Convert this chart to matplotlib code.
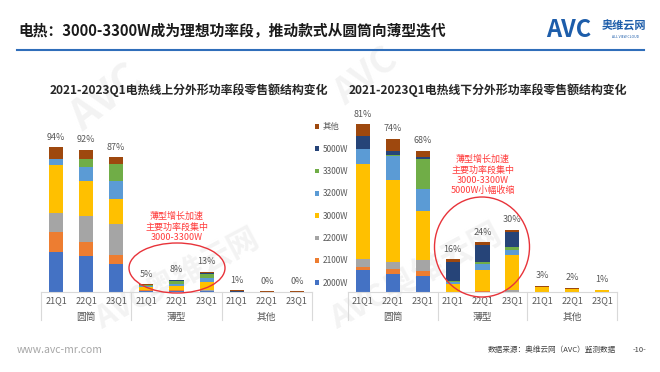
import matplotlib
matplotlib.use('Agg')
from matplotlib import pyplot as plt
from matplotlib.patches import Ellipse
from matplotlib.lines import Line2D
import numpy as np

plt.rcParams['font.family'] = ['Noto Sans CJK SC', 'DejaVu Sans']

W, H = 660, 372

quarters = ['21Q1', '22Q1', '23Q1']
groups = ['圆筒', '薄型', '其他']
bands = ['2000W', '2100W', '2200W', '3000W', '3200W', '3300W', '5000W', '其他']
colors = ['#4472C4', '#ED7D31', '#A5A5A5', '#FFC000', '#5B9BD5', '#70AD47', '#264478', '#9E480E']

# 线上 (圆筒 21Q1..23Q1, 薄型 21Q1..23Q1, 其他 21Q1..23Q1), 单位 %
on_2000 = [26.1, 23.1, 17.9, 0.5, 0.6, 0.4, 0.1, 0.1, 0.1]
on_2100 = [13.0, 9.3, 6.0, 0.6, 0.4, 0.3, 0.0, 0.0, 0.0]
on_2200 = [12.3, 16.8, 20.1, 0.4, 0.6, 0.4, 0.1, 0.0, 0.0]
on_3000 = [31.3, 22.7, 16.2, 1.5, 2.0, 5.5, 0.1, 0.1, 0.1]
on_3200 = [3.9, 9.1, 12.1, 0.7, 1.3, 2.8, 0.0, 0.0, 0.0]
on_3300 = [0.0, 5.6, 11.0, 0.9, 2.4, 2.6, 0.0, 0.0, 0.0]
on_5000 = [0.0, 0.0, 0.0, 0.2, 0.2, 0.3, 0.6, 0.1, 0.0]
on_other = [7.3, 5.6, 4.1, 0.2, 0.5, 0.7, 0.1, 0.1, 0.2]

# 线下
off_2000 = [10.5, 8.5, 7.6, 0.0, 0.0, 0.0, 0.0, 0.0, 0.0]
off_2100 = [1.6, 2.4, 2.6, 0.0, 0.4, 0.0, 0.0, 0.0, 0.0]
off_2200 = [4.0, 3.5, 5.2, 0.0, 0.0, 1.1, 0.0, 0.0, 0.0]
off_3000 = [45.9, 39.8, 23.6, 4.0, 10.3, 16.6, 2.4, 1.5, 0.8]
off_3200 = [7.2, 11.4, 10.8, 0.8, 2.9, 2.7, 0.0, 0.0, 0.0]
off_3300 = [0.0, 0.6, 14.5, 0.6, 0.8, 1.3, 0.0, 0.0, 0.0]
off_5000 = [6.0, 2.1, 1.1, 9.2, 8.1, 7.2, 0.0, 0.0, 0.0]
off_other = [5.8, 5.6, 2.9, 1.3, 1.6, 1.1, 0.6, 0.5, 0.4]

online = [on_2000, on_2100, on_2200, on_3000, on_3200, on_3300, on_5000, on_other]
offline = [off_2000, off_2100, off_2200, off_3000, off_3200, off_3300, off_5000, off_other]


def fx(px):
    return px / W


def fy(py):
    return 1 - py / H


def draw_chart(ax, series, ymax, h_px):
    x = np.arange(9)
    bottom = np.zeros(9)
    for vals, c, lab in zip(series, colors, bands):
        ax.bar(x, vals, 0.47, bottom=bottom, color=c, label=lab, zorder=2)
        bottom += np.asarray(vals)
    for xi, tot in zip(x, bottom):
        ax.annotate(f'{tot:.0f}%', (xi, tot), xytext=(0, 4), textcoords='offset points',
                    ha='center', va='bottom', fontsize=6.5, color='#595959')
    ax.set_xlim(-0.5, 8.5)
    ax.set_ylim(0, ymax)
    ax.set_facecolor('none')
    for s in ax.spines.values():
        s.set_visible(False)
    ax.set_yticks([])
    ax.set_xticks(x)
    ax.set_xticklabels(quarters * 3, fontsize=6.5, color='#595959')
    ax.tick_params(axis='x', length=0, pad=3)
    ax.plot([-0.5, 8.5], [0, 0], color='#D9D9D9', lw=0.8, zorder=3, clip_on=False)
    trans = ax.get_xaxis_transform()
    for sep in [-0.5, 2.5, 5.5, 8.5]:
        ax.plot([sep, sep], [0, -28 / h_px], color='#D9D9D9', lw=0.8, transform=trans, clip_on=False)
    for i, g in enumerate(groups):
        ax.annotate(g, (3 * i + 1, 0), xycoords=trans, xytext=(0, -18), textcoords='offset points',
                    ha='center', va='center', fontsize=7, color='#595959')


fig = plt.figure(figsize=(6.6, 3.72), dpi=100)

# 水印
wm = '#F3F3F3'
fig.text(fx(88), fy(140), 'AVC', rotation=38, rotation_mode='anchor', fontsize=30,
         weight='bold', color=wm, ha='left', va='bottom', zorder=-1)
fig.text(fx(350), fy(112), 'AVC', rotation=38, rotation_mode='anchor', fontsize=26,
         weight='bold', color=wm, ha='left', va='bottom', zorder=-1)
fig.text(fx(105), fy(335), 'AVC奥维云网', rotation=28, rotation_mode='anchor', fontsize=22,
         weight='bold', color=wm, ha='left', va='bottom', zorder=-1)
fig.text(fx(340), fy(335), 'AVC奥维云网', rotation=28, rotation_mode='anchor', fontsize=23,
         weight='bold', color=wm, ha='left', va='bottom', zorder=-1)

ax1 = fig.add_axes([fx(41), fy(292), (312 - 41) / W, (292 - 130) / H])
ax2 = fig.add_axes([fx(348), fy(292), (617 - 348) / W, (292 - 110) / H])
draw_chart(ax1, online, 105.2, 292 - 130)
draw_chart(ax2, offline, 87.9, 292 - 110)

fig.text(fx(189), fy(90), '2021-2023Q1电热线上分外形功率段零售额结构变化', ha='center', va='center',
         fontsize=8.6, weight='bold', color='#262626')
fig.text(fx(488), fy(90), '2021-2023Q1电热线下分外形功率段零售额结构变化', ha='center', va='center',
         fontsize=8.6, weight='bold', color='#262626')

handles, labels = ax1.get_legend_handles_labels()
fig.legend(handles[::-1], labels[::-1], loc='center left', bbox_to_anchor=(fx(311), fy(205)),
           frameon=False, fontsize=6, handlelength=0.5, handleheight=0.5, handletextpad=0.4,
           labelspacing=1.6, borderpad=0, labelcolor='#595959')

# 标注
red = '#E8333A'
fig.add_artist(Ellipse((fx(177), fy(268)), 96 / W, 50 / H, transform=fig.transFigure,
                       fill=False, ec=red, lw=1.0))
fig.text(fx(177), fy(227), '薄型增长加速\n主要功率段集中\n3000-3300W', ha='center', va='center',
         fontsize=6.5, color='#FF3B3B', linespacing=1.2)
fig.add_artist(Ellipse((fx(482), fy(247)), 95 / W, 100 / H, transform=fig.transFigure,
                       fill=False, ec=red, lw=1.0))
fig.text(fx(483), fy(175), '薄型增长加速\n主要功率段集中\n3000-3300W\n5000W小幅收缩', ha='center', va='center',
         fontsize=6.5, color='#FF3B3B', linespacing=1.2)

# 页眉
fig.text(fx(18), fy(31), '电热：3000-3300W成为理想功率段，推动款式从圆筒向薄型迭代', ha='left', va='center',
         fontsize=10.6, weight='bold', color='#1A1A1A')
fig.add_artist(Line2D([fx(17), fx(644)], [fy(50), fy(50)], transform=fig.transFigure, color='#2F6EBA', lw=1.5))
fig.text(fx(546), fy(30), 'AVC', ha='left', va='center', fontsize=17, weight='heavy', color='#1D5DAA')
fig.text(fx(602), fy(26), '奥维云网', ha='left', va='center', fontsize=8, weight='bold', color='#1D5DAA')
fig.text(fx(612), fy(37), 'ALL VIEW CLOUD', ha='left', va='center', fontsize=2.5, color='#1D5DAA')

# 页脚
fig.text(fx(17), fy(350), 'www.avc-mr.com', ha='left', va='center', fontsize=7.5, color='#A6A6A6')
fig.text(fx(616), fy(350), '数据来源：奥维云网（AVC）监测数据', ha='right', va='center', fontsize=5.5, color='#404040')
fig.text(fx(646), fy(350), '-10-', ha='right', va='center', fontsize=5.5, color='#404040')

fig.savefig('out.png', dpi=100)
